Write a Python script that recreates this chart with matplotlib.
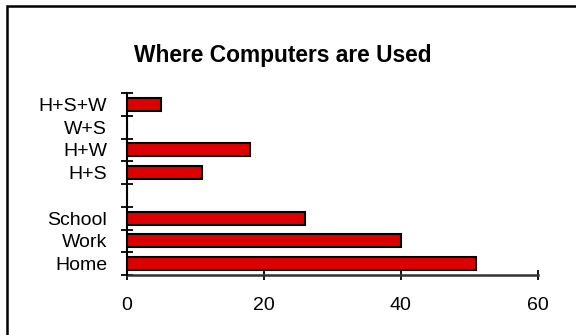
import matplotlib
matplotlib.use("Agg")
import matplotlib.pyplot as plt
from matplotlib.patches import Rectangle

categories = ["Home", "Work", "School", "", "H+S", "H+W", "W+S", "H+S+W"]
values = [51, 40, 26, 0, 11, 18, 0, 5]
x_ticks = [0, 20, 40, 60]
title = "Where Computers are Used"

plt.rcParams['font.family'] = ['Liberation Sans', 'DejaVu Sans']

fig = plt.figure(figsize=(5.76, 3.35), dpi=100)
W, H = 576, 335
ax = fig.add_axes([126.7 / W, 1 - 275 / H, (538 - 126.7) / W, (275 - 93) / H])

pos = list(range(len(categories)))
ax.barh(pos, values, height=0.57, color='#DD0000', edgecolor='black', linewidth=1.5, zorder=2)

ax.set_xlim(0, 60)
ax.set_ylim(-0.5, len(categories) - 0.5)

ax.set_xticks(x_ticks)
ax.set_xticklabels([str(t) for t in x_ticks])
ax.tick_params(axis='x', direction='inout', length=7, width=1.3, pad=12.5, labelsize=14, color='black')

ax.set_yticks([p - 0.5 for p in pos] + [len(categories) - 0.5])
ax.set_yticklabels([])
ax.set_yticks(pos, minor=True)
ax.set_yticklabels(categories, minor=True)
ax.tick_params(axis='y', which='major', direction='inout', length=8, width=1.3)
ax.tick_params(axis='y', which='minor', length=0, pad=14, labelsize=14)

for s in ['top', 'right']:
    ax.spines[s].set_visible(False)
ax.spines['left'].set_linewidth(1.5)
ax.spines['bottom'].set_linewidth(1.8)
ax.spines['bottom'].set_color('#333333')
ax.spines['left'].set_zorder(3)

fig.text(283 / W, 1 - 61.7 / H, title, ha='center', va='baseline',
         fontsize=16.4, fontweight='bold')

fig.patches.append(Rectangle((7 / W, -0.1), 1.2, 1 - 6 / H + 0.1, transform=fig.transFigure,
                             fill=False, edgecolor='black', linewidth=1.8))

fig.savefig("out.png", dpi=100)
